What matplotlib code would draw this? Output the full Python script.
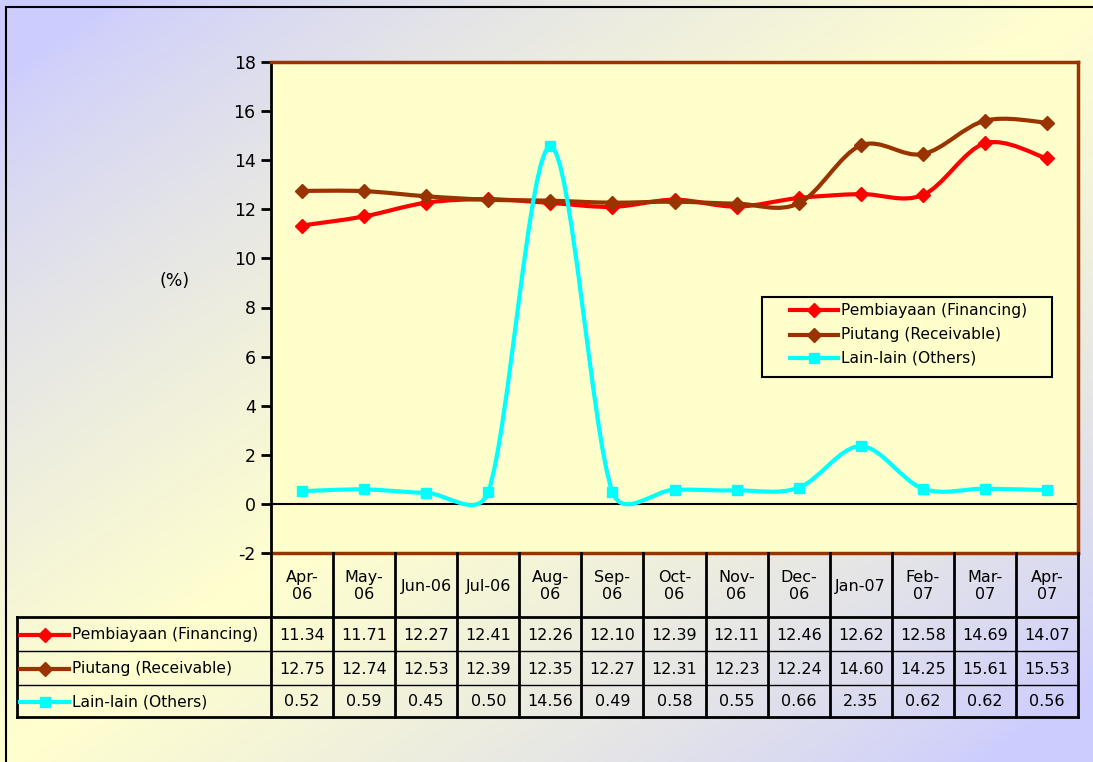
import numpy as np
import matplotlib
matplotlib.use('Agg')
import matplotlib.pyplot as plt
from matplotlib.path import Path
from matplotlib.patches import PathPatch, Rectangle
from matplotlib.lines import Line2D

# data
months = ['Apr-\n06', 'May-\n06', 'Jun-06', 'Jul-06', 'Aug-\n06', 'Sep-\n06', 'Oct-\n06',
          'Nov-\n06', 'Dec-\n06', 'Jan-07', 'Feb-\n07', 'Mar-\n07', 'Apr-\n07']
financing = [11.34, 11.71, 12.27, 12.41, 12.26, 12.10, 12.39, 12.11, 12.46, 12.62, 12.58, 14.69, 14.07]
receivable = [12.75, 12.74, 12.53, 12.39, 12.35, 12.27, 12.31, 12.23, 12.24, 14.60, 14.25, 15.61, 15.53]
others = [0.52, 0.59, 0.45, 0.50, 14.56, 0.49, 0.58, 0.55, 0.66, 2.35, 0.62, 0.62, 0.56]
names = ['Pembiayaan (Financing)', 'Piutang (Receivable)', 'Lain-lain (Others)']
colors = ['#FF0000', '#993300', '#00FFFF']
markers = ['D', 'D', 's']
msizes = [7.5, 7.5, 7]

W, H = 1093, 762
plt.rcParams['font.family'] = 'DejaVu Sans'
plt.rcParams['axes.unicode_minus'] = False
fig = plt.figure(figsize=(W / 100, H / 100), dpi=100)


def fx(px):
    return px / W


def fy(py):
    return 1 - py / H


# gradient background
bg = fig.add_axes([0, 0, 1, 1], zorder=-10)
gx, gy = np.meshgrid(np.linspace(0, 1, 300), np.linspace(0, 1, 220))
t = np.clip(1 - np.abs((gx + gy) - 1.0) * 1.1, 0, 1) ** 0.8
lav = np.array([204, 204, 255]) / 255
yel = np.array([255, 255, 206]) / 255
img = lav[None, None, :] * (1 - t[..., None]) + yel[None, None, :] * t[..., None]
bg.imshow(img, extent=[0, 1, 0, 1], aspect='auto', origin='upper')
bg.set_xlim(0, 1)
bg.set_ylim(0, 1)
bg.axis('off')
fig.add_artist(Rectangle((fx(6), fy(790)), fx(1120), fy(7) - fy(790), transform=fig.transFigure,
                         fill=False, edgecolor='black', linewidth=1.5))

# main plot
L, R, T, B = 271, 1078, 62, 553
ax = fig.add_axes([fx(L), fy(B), fx(R - L), fy(T) - fy(B)])
ax.set_facecolor('#FFFFCC')
ax.set_xlim(-0.5, len(months) - 0.5)
ax.set_ylim(-2, 18)
ax.set_yticks(range(-2, 19, 2))
ax.set_xticks([])
ax.tick_params(axis='y', direction='out', length=7, width=2, labelsize=12.5, pad=4, colors='black')
for s in ['top', 'right', 'bottom']:
    ax.spines[s].set_color('#993300')
    ax.spines[s].set_linewidth(2.5)
ax.spines['left'].set_color('black')
ax.spines['left'].set_linewidth(2)
ax.axhline(0, color='black', linewidth=1.5, zorder=1)
fig.text(fx(175), fy(281), '(%)', fontsize=12.5, ha='center', va='center')


def smooth_path(xs, ys):
    # Excel-like smoothed line as cubic bezier segments, built in pixel space
    p = ax.transData.transform(np.column_stack([xs, ys]))
    n = len(p)
    tang = []
    for i in range(n):
        a = p[max(i - 1, 0)]
        b = p[min(i + 1, n - 1)]
        tang.append((b - a) / 6.0)
    verts = [p[0]]
    codes = [Path.MOVETO]
    for i in range(n - 1):
        seg = np.hypot(*(p[i + 1] - p[i]))
        t1, t2 = tang[i], tang[i + 1]
        k1 = min(1.0, 0.5 * seg / max(np.hypot(*t1), 1e-9))
        k2 = min(1.0, 0.5 * seg / max(np.hypot(*t2), 1e-9))
        verts += [p[i] + t1 * k1, p[i + 1] - t2 * k2, p[i + 1]]
        codes += [Path.CURVE4] * 3
    verts = ax.transData.inverted().transform(np.array(verts))
    return Path(verts, codes)


x = np.arange(len(months))
for k, (vals, c, m, ms) in enumerate(zip([financing, receivable, others], colors, markers, msizes)):
    ax.add_patch(PathPatch(smooth_path(x, vals), facecolor='none', edgecolor=c, linewidth=3, zorder=3 + 2 * k))
    ax.plot(x, vals, linestyle='none', marker=m, color=c, markersize=ms, zorder=4 + 2 * k)

# legend box drawn by hand
fig.add_artist(Rectangle((fx(762), fy(377)), fx(1052 - 762), fy(297) - fy(377), transform=fig.transFigure,
                         facecolor='#FFFFCC', edgecolor='black', linewidth=1.5, zorder=20))
for yc, c, m, ms, nm in zip([310, 334.5, 358], colors, markers, msizes, names):
    fig.add_artist(Line2D([fx(790), fx(814), fx(838)], [fy(yc)] * 3, color=c, linewidth=3,
                          marker=m, markevery=[1], markersize=ms, zorder=21))
    fig.text(fx(841), fy(yc), nm, ha='left', va='center', fontsize=11.2, zorder=21)

# data table
colw = (R - L) / len(months)
rows = [553, 617, 651, 685, 717]
TL = 17


def hline(x0, x1, y, lw):
    fig.add_artist(Line2D([fx(x0), fx(x1)], [fy(y), fy(y)], color='black', linewidth=lw))


def vline(xp, y0, y1, lw):
    fig.add_artist(Line2D([fx(xp), fx(xp)], [fy(y0), fy(y1)], color='black', linewidth=lw))


hline(TL, R, rows[1], 2)
hline(TL, R, rows[2], 1)
hline(TL, R, rows[3], 1)
hline(TL, R, rows[4], 2)
vline(TL, rows[1], rows[4], 2)
for k in range(len(months) + 1):
    vline(L + k * colw, rows[0], rows[4], 2)

for i, lab in enumerate(months):
    cx = L + (i + 0.5) * colw
    fig.text(fx(cx), fy((rows[0] + rows[1]) / 2 + 1), lab, ha='center', va='center',
             fontsize=11.5, linespacing=1.15)

for r, (vals, c, m, ms, nm) in enumerate(zip([financing, receivable, others], colors, markers, msizes, names)):
    cy = (rows[r + 1] + rows[r + 2]) / 2 + 1
    fig.add_artist(Line2D([fx(20), fx(44.5), fx(69)], [fy(cy)] * 3, color=c, linewidth=3,
                          marker=m, markevery=[1], markersize=ms))
    fig.text(fx(72), fy(cy), nm, ha='left', va='center', fontsize=11.2)
    for i, v in enumerate(vals):
        cx = L + (i + 0.5) * colw
        fig.text(fx(cx), fy(cy), '%.2f' % v, ha='center', va='center', fontsize=11.5)

fig.savefig('out.png', dpi=100)
